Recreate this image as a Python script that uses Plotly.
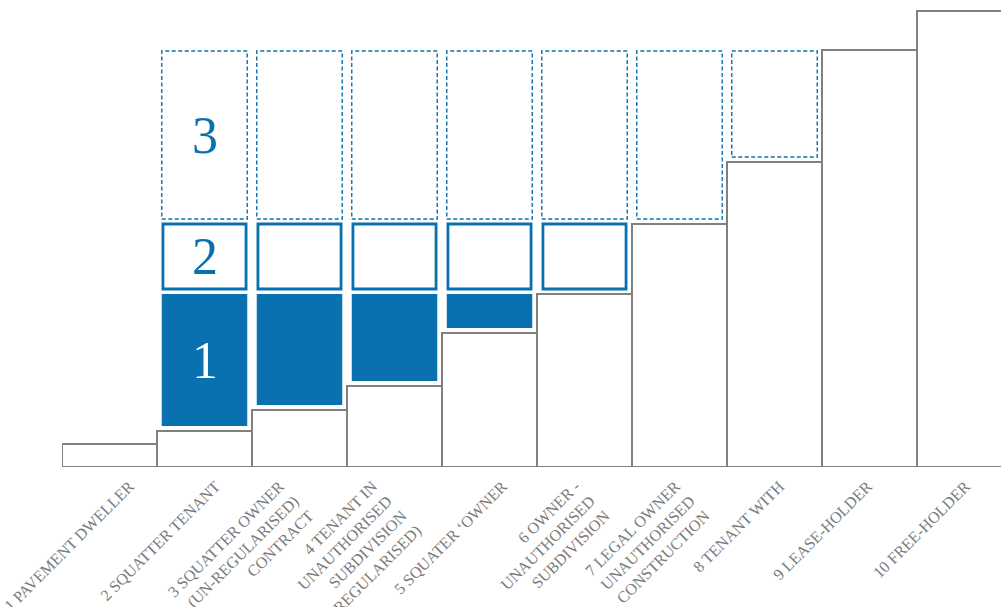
import plotly.graph_objects as go

# ---- data ----
labels = [
    "1 PAVEMENT DWELLER",
    "2 SQUATTER TENANT",
    "3 SQUATTER OWNER<br>(UN-REGULARISED)<br>CONTRACT",
    "4 TENANT IN<br>UNAUTHORISED<br>SUBDIVISION<br>(REGULARISED)",
    "5 SQUATER \u2018OWNER",
    "6 OWNER -<br>UNAUTHORISED<br>SUBDIVISION",
    "7 LEGAL OWNER<br>UNAUTHORISED<br>CONSTRUCTION",
    "8 TENANT WITH",
    "9 LEASE-HOLDER",
    "10 FREE-HOLDER",
]
tenure_level = [23, 36, 57, 81, 134, 173, 243, 305, 417, 456]
zone_names = ["1", "2", "3"]
zone_tops = [173, 243, 416]

# ---- style / layout ----
GREY = "#808080"
BLUE = "#0a71b0"
GAP = 5
BOXW = 0.9
PX_PER_BAR = 95
# horizontal nudge of each tick label (pixels), to follow the original placement
label_nudge_px = [20, 11, -20, -22, 13, -9, -4, 5, -2, 1]

idx = list(range(len(labels)))
fig = go.Figure()

# grey step bars
fig.add_trace(go.Bar(
    x=idx, y=tenure_level, width=1,
    marker=dict(color="white", line=dict(color=GREY, width=2)),
    hoverinfo="skip", showlegend=False,
))

# zone boxes
prev_top = None
zone_centers = []
for z, top in enumerate(zone_tops):
    xs, bases, hs = [], [], []
    for i in idx[1:]:
        if tenure_level[i] < top:
            lo = tenure_level[i] if prev_top is None else max(tenure_level[i], prev_top)
            lo = lo + GAP
            xs.append(i)
            bases.append(lo)
            hs.append(top - lo)
    zone_centers.append((xs[0], bases[0] + hs[0] / 2))
    if z == 0:
        fig.add_trace(go.Bar(x=xs, y=hs, base=bases, width=BOXW,
                             marker=dict(color=BLUE, line=dict(width=0)),
                             hoverinfo="skip", showlegend=False))
    elif z == 1:
        fig.add_trace(go.Bar(x=xs, y=hs, base=bases, width=BOXW - 0.025,
                             marker=dict(color="white", line=dict(color=BLUE, width=2.8)),
                             hoverinfo="skip", showlegend=False))
    else:
        px, py = [], []
        for x, b, h in zip(xs, bases, hs):
            x0, x1 = x - BOXW / 2, x + BOXW / 2
            px += [x0, x1, x1, x0, x0, None]
            py += [b, b, b + h, b + h, b, None]
        fig.add_trace(go.Scatter(x=px, y=py, mode="lines",
                                 line=dict(color=BLUE, width=1.4, dash="4px,2.5px"),
                                 hoverinfo="skip", showlegend=False))
    prev_top = top

for z, (x, y) in enumerate(zone_centers):
    fig.add_annotation(x=x, y=y, text=zone_names[z], showarrow=False,
                       font=dict(family="Liberation Serif", size=52,
                                 color="white" if z == 0 else BLUE))

tickvals = [i + d / PX_PER_BAR for i, d in zip(idx, label_nudge_px)]

fig.update_layout(
    width=1001, height=607,
    margin=dict(l=62, r=0, t=0, b=140),
    paper_bgcolor="white", plot_bgcolor="white",
    barmode="overlay",
    xaxis=dict(range=[-0.5, -0.5 + 939 / PX_PER_BAR], tickvals=tickvals, ticktext=labels,
               tickangle=-45, showgrid=False, zeroline=False, showline=False,
               automargin=False, ticklabeloverflow="allow", ticklabelstandoff=6,
               ticks="", tickfont=dict(family="Liberation Serif", size=16, color="#7a7a7a")),
    yaxis=dict(range=[0, 467], visible=False),
)

fig.write_html("out.html", config={"displayModeBar": False},
               post_script="document.body.style.margin='0';")
